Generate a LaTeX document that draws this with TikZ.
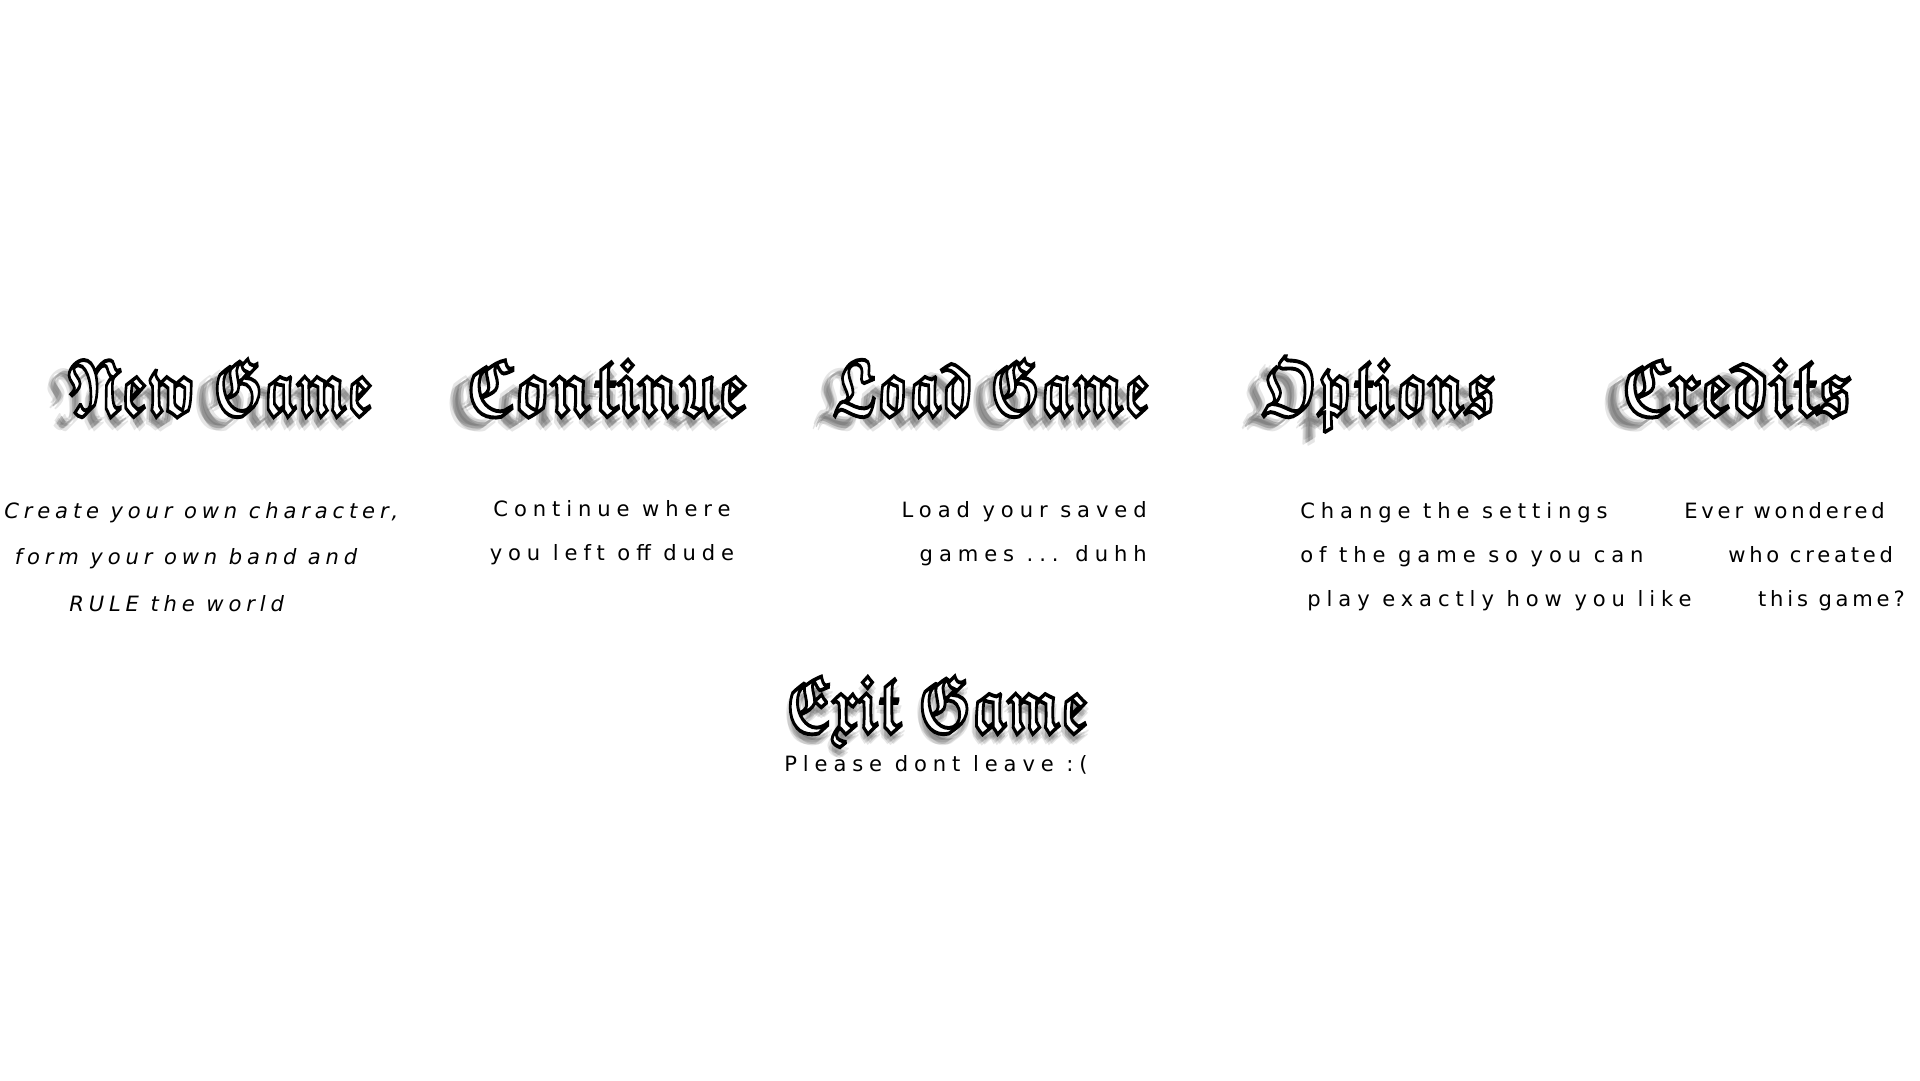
\documentclass[tikz,border=0pt]{standalone}
\usepackage{fontspec}
\usepackage{amsfonts}
\newfontfamily\descfont{DejaVu Sans}[LetterSpace=28]
\newfontfamily\itdescfont{DejaVu Sans Oblique}[LetterSpace=23]
\DeclareFontFamily{U}{menufrak}{}
\DeclareFontShape{U}{menufrak}{b}{n}{<-> eufb10}{}
\newcommand{\tsp}{\hspace{0.3em}}
% White letters with a black rim (fill and stroke text).
\newcommand{\rimmed}[1]{\special{pdf:literal direct 2 Tr 0 G 2.2 w}#1\special{pdf:literal direct 0 Tr}}
\usetikzlibrary{positioning}

\begin{document}
\begin{tikzpicture}[x = 0.02cm, y = -0.02cm,
    title/.style = {font = \fontsize{46}{50}\usefont{U}{menufrak}{b}{n}, text = white, inner sep = 0pt,
                    anchor = base, transform shape},
    titleshadow/.style = {title, text = black, text opacity = 0.1},
    desc/.style = {font = \descfont\fontsize{12}{25}\selectfont, inner sep = 0pt}]

    % Page and background.
    \fill[white] (0, 0) rectangle (1920, 1080);
    \useasboundingbox (0, 0) rectangle (1920, 1080);

    % Menu titles: soft shadow first, then the rimmed letters.
    \foreach \name/\pos/\sx/\txt in {newgame/{220,415}/0.674/{New\tsp Game}, contgame/{607,415}/0.786/{Continue},
                                     loadgame/{991,415}/0.674/{Load\tsp Game}, options/{1379,415}/0.707/{Options},
                                     credits/{1737,415}/0.818/{Credits}} {
        \foreach \dx/\dy in {-18/11, -15/9, -21/13, -16/14, -20/8, -18/11} {
            \node[titleshadow, xscale = \sx, xshift = \dx*0.02cm/\sx, yshift = -\dy*0.02cm] at (\pos) {\txt};
        }
        \node[title, xscale = \sx] (\name) at (\pos) {\rimmed{\txt}};
    }

    % The exit title glows straight down.
    \coordinate (exitpos) at (937, 732);
    \foreach \dx/\dy in {0/8, -4/6, 4/6, 0/11, -3/10, 3/10} {
        \node[titleshadow, xscale = 0.72, xshift = \dx*0.02cm/0.72, yshift = -\dy*0.02cm] at (exitpos) {Exit\tsp Game};
    }
    \node[title, xscale = 0.72] (exitgame) at (exitpos) {\rimmed{Exit\tsp Game}};

    % Descriptions under each title.
    \node[desc, align = left, anchor = west, font = \itdescfont\fontsize{12}{26.5}\selectfont] (newdesc) at (4, 557)
        {Create your own character,\\\hspace*{6pt}form your own band and\\\hspace*{37pt}RULE the world};
    \node[desc, align = center] (contdesc) at (612, 533)
        {Continue where\\you left off dude};
    \node[desc, align = right, anchor = east] (loaddesc) at (1147, 534)
        {Load your saved\\games ... duhh};
    \node[desc, align = left, anchor = west] (optdesc) at (1300, 557)
        {Change the settings\\of the game so you can\\\hspace*{4pt}play exactly how you like};
    \node[desc, align = left, anchor = west, font = \descfont\addfontfeature{LetterSpace=18}\fontsize{12}{25}\selectfont] (creddesc) at (1684, 557)
        {Ever wondered\\\hspace*{25pt}who created\\\hspace*{42pt}this game?};
    \node[desc] (exitdesc) at (936, 765) {Please dont leave :(};
\end{tikzpicture}
\end{document}
